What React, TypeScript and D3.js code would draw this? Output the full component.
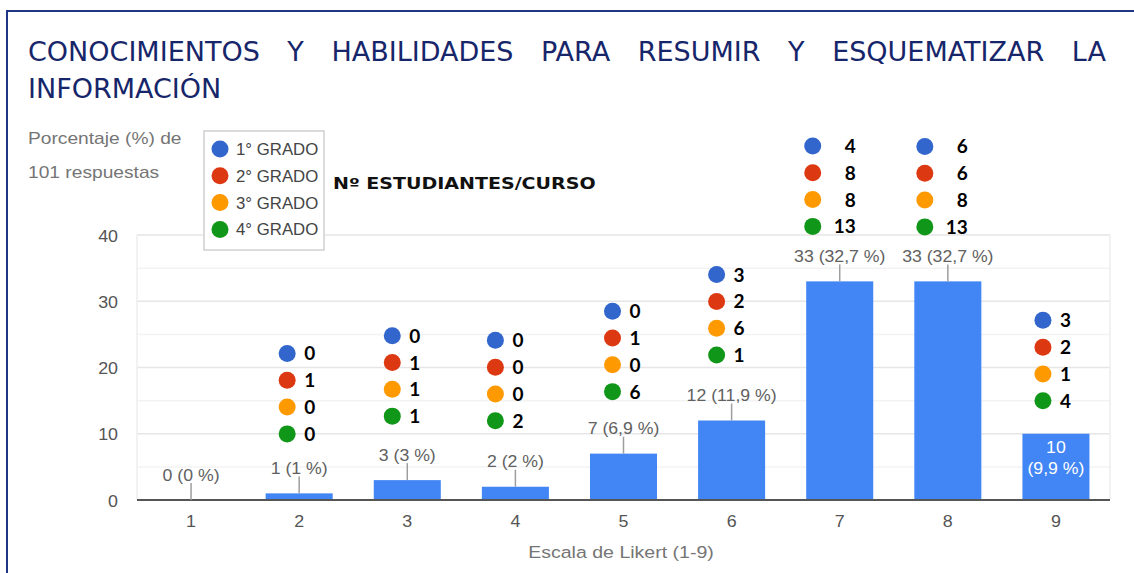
import React, { useEffect, useRef } from 'react';
import * as d3 from 'd3';

// ---------- data ----------
const categories = ['1', '2', '3', '4', '5', '6', '7', '8', '9'];
const counts = [0, 1, 3, 2, 7, 12, 33, 33, 10];
const percents = ['0', '1', '3', '2', '6,9', '11,9', '32,7', '32,7', '9,9'];
const grado1: (number | null)[] = [null, 0, 0, 0, 0, 3, 4, 6, 3];
const grado2: (number | null)[] = [null, 1, 1, 0, 1, 2, 8, 6, 2];
const grado3: (number | null)[] = [null, 0, 1, 0, 0, 6, 8, 8, 1];
const grado4: (number | null)[] = [null, 0, 1, 2, 6, 1, 13, 13, 4];
const gradoNames = ['1° GRADO', '2° GRADO', '3° GRADO', '4° GRADO'];
const yTicks = [0, 10, 20, 30, 40];
const yMinorTicks = [5, 15, 25, 35];
const titleLines = ['CONOCIMIENTOS Y HABILIDADES PARA RESUMIR Y ESQUEMATIZAR LA', 'INFORMACIÓN'];
const yTitleLines = ['Porcentaje (%) de', '101 respuestas'];
const xTitle = 'Escala de Likert (1-9)';
const noteTitle = 'Nº ESTUDIANTES/CURSO';

// ---------- layout / style ----------
const W = 1134;
const H = 573;
const PLOT_L = 137;
const PLOT_R = 1110;
const PLOT_B = 500;
const PLOT_T = 235;
const GRADO_COLORS = ['#3366cc', '#dc3912', '#ff9900', '#109618'];
const BAR_COLOR = '#4285f4';
const NAVY = '#17266a';
const ROW = 26.8;
// per-category annotation nudge: [dx from bar centre, dy of last dot from bar top]
const NOTE_NUDGE: [number, number][] = [
  [0, 0], [-12, -59.5], [-15, -64], [-20, -66], [-11, -62], [-15, -65.5], [-27, -55], [-23, -54.5], [-13, -33],
];
const LABEL_INSIDE = [false, false, false, false, false, false, false, false, true];
const CHART_FONT = '"Liberation Sans", Arial, sans-serif';

export default function App() {
  const titleRef = useRef<SVGGElement>(null);

  const x = d3.scaleBand<string>().domain(categories).range([PLOT_L, PLOT_R]).paddingInner(0.38).paddingOuter(0.19);
  const y = d3.scaleLinear().domain([0, 40]).range([PLOT_B, PLOT_T]);
  const grados = [grado1, grado2, grado3, grado4];

  useEffect(() => {
    const g = d3.select(titleRef.current);
    g.selectAll('*').remove();
    const left = 28;
    const right = 1106;
    titleLines.forEach((line, li) => {
      const words = line.split(' ');
      const yy = 61 + li * 36.5;
      const nodes = words.map((w) =>
        g
          .append('text')
          .attr('y', yy)
          .attr('x', 0)
          .style('font-family', '"DejaVu Sans", Verdana, sans-serif')
          .style('font-size', '27px')
          .style('fill', NAVY)
          .text(w)
      );
      const widths = nodes.map((n) => (n.node() as SVGTextElement).getComputedTextLength());
      const total = widths.reduce((a, b) => a + b, 0);
      const justify = li < titleLines.length - 1 && words.length > 1;
      const gap = justify ? (right - left - total) / (words.length - 1) : 8;
      let cx = left;
      nodes.forEach((n, i) => {
        n.attr('x', cx);
        cx += widths[i] + gap;
      });
    });
  }, []);

  const sText = (tx: number, ty: number, sx: number) => `translate(${tx},${ty}) scale(${sx},1)`;

  return (
    <svg width={W} height={H} style={{ position: 'absolute', left: 0, top: 0, background: '#fff' }}>
      <rect x={0} y={0} width={W} height={H} fill="#fff" />
      {/* frame */}
      <rect x={7} y={11} width={W + 50} height={H + 50} fill="none" stroke="#1d3784" strokeWidth={2} />
      <g ref={titleRef} />

      {/* y title */}
      {yTitleLines.map((t, i) => (
        <text key={t} transform={sText(28, 143.5 + i * 34, 1.2)} fontFamily={CHART_FONT} fontSize={16} fill="#757575">
          {t}
        </text>
      ))}

      {/* gridlines */}
      {yMinorTicks.map((t) => (
        <line key={'m' + t} x1={PLOT_L} x2={PLOT_R} y1={y(t)} y2={y(t)} stroke="#f3f3f3" strokeWidth={1.5} />
      ))}
      {yTicks.map((t) => (
        <line key={'g' + t} x1={PLOT_L} x2={PLOT_R} y1={y(t)} y2={y(t)} stroke="#e6e6e6" strokeWidth={1.5} />
      ))}
      <line x1={PLOT_L} x2={PLOT_L} y1={PLOT_T} y2={PLOT_B} stroke="#eeeeee" strokeWidth={1.5} />
      <line x1={PLOT_R} x2={PLOT_R} y1={PLOT_T} y2={PLOT_B} stroke="#eeeeee" strokeWidth={1.5} />

      {/* y tick labels */}
      {yTicks.map((t) => (
        <text
          key={'yt' + t}
          transform={sText(118, y(t) + 6.5, 1.05)}
          textAnchor="end"
          fontFamily={CHART_FONT}
          fontSize={17}
          fill="#555"
        >
          {t}
        </text>
      ))}

      {/* bars */}
      {categories.map((c, i) => (
        <rect key={'b' + c} x={x(c)} y={y(counts[i])} width={x.bandwidth()} height={PLOT_B - y(counts[i])} fill={BAR_COLOR} />
      ))}

      {/* baseline */}
      <line x1={PLOT_L} x2={PLOT_R} y1={PLOT_B} y2={PLOT_B} stroke="#555" strokeWidth={2} />

      {/* bar labels */}
      {categories.map((c, i) => {
        const cx = (x(c) as number) + x.bandwidth() / 2;
        const top = y(counts[i]);
        if (LABEL_INSIDE[i]) {
          return (
            <g key={'l' + c}>
              <text transform={sText(cx, top + 19.5, 1.04)} textAnchor="middle" fontFamily={CHART_FONT} fontSize={17} fill="#fff">
                {counts[i]}
              </text>
              <text transform={sText(cx, top + 40.5, 1.04)} textAnchor="middle" fontFamily={CHART_FONT} fontSize={17} fill="#fff">
                {`(${percents[i]} %)`}
              </text>
            </g>
          );
        }
        return (
          <g key={'l' + c}>
            <line x1={cx} x2={cx} y1={top} y2={top - 17} stroke="#9e9e9e" strokeWidth={1.5} />
            <text transform={sText(cx, top - 19.5, 1.04)} textAnchor="middle" fontFamily={CHART_FONT} fontSize={17} fill="#616161">
              {`${counts[i]} (${percents[i]} %)`}
            </text>
          </g>
        );
      })}

      {/* x tick labels */}
      {categories.map((c) => (
        <text
          key={'xt' + c}
          transform={sText((x(c) as number) + x.bandwidth() / 2, 526.5, 1.05)}
          textAnchor="middle"
          fontFamily={CHART_FONT}
          fontSize={17}
          fill="#555"
        >
          {c}
        </text>
      ))}
      <text transform={sText(621, 557.5, 1.15)} textAnchor="middle" fontFamily={CHART_FONT} fontSize={17} fill="#757575">
        {xTitle}
      </text>

      {/* legend */}
      <rect x={204} y={131} width={120} height={119} fill="#fff" stroke="#d0d0d0" strokeWidth={1.5} />
      {gradoNames.map((n, i) => (
        <g key={n}>
          <circle cx={220} cy={149 + i * ROW} r={8.5} fill={GRADO_COLORS[i]} />
          <text transform={sText(236, 149 + i * ROW + 6, 1.05)} fontFamily={CHART_FONT} fontSize={16} fill="#444">
            {n}
          </text>
        </g>
      ))}

      {/* note title */}
      <text
        transform={sText(333, 189, 1.19)}
        fontFamily='"DejaVu Sans", Verdana, sans-serif'
        fontWeight="bold"
        fontSize={16}
        fill="#111"
      >
        {noteTitle}
      </text>

      {/* per-course annotations */}
      {categories.map((c, i) => {
        if (grado1[i] === null) return null;
        const cx = (x(c) as number) + x.bandwidth() / 2 + NOTE_NUDGE[i][0];
        const lastY = y(counts[i]) + NOTE_NUDGE[i][1];
        const vals = grados.map((gr) => gr[i] as number);
        const wide = vals.some((v) => v >= 10);
        return (
          <g key={'n' + c}>
            {vals.map((v, k) => {
              const cy = lastY - (3 - k) * ROW;
              return (
                <g key={k}>
                  <circle cx={cx} cy={cy} r={8.5} fill={GRADO_COLORS[k]} />
                  <text
                    x={wide ? cx + 43 : cx + 17}
                    y={cy + 7}
                    textAnchor={wide ? 'end' : 'start'}
                    fontFamily="Lato, 'Open Sans', sans-serif"
                    fontWeight="bold"
                    fontSize={19}
                    fill="#000"
                  >
                    {v}
                  </text>
                </g>
              );
            })}
          </g>
        );
      })}
    </svg>
  );
}
